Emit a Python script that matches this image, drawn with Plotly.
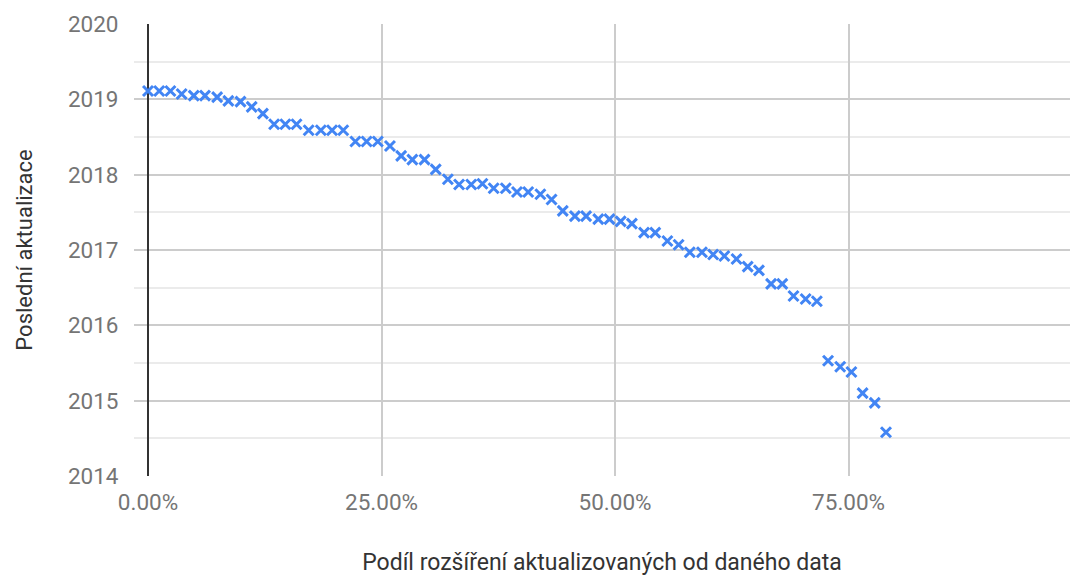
"""
Podíl rozšíření aktualizovaných od daného data - scatter chart
"""
import plotly.graph_objects as go

# share of extensions updated since the given date (fraction)
share_updated = [
    0.000, 0.012, 0.024, 0.036, 0.049, 0.061, 0.074, 0.086, 0.099, 0.111,
    0.123, 0.135, 0.147, 0.159, 0.172, 0.185, 0.197, 0.209, 0.222, 0.234,
    0.246, 0.259, 0.271, 0.283, 0.296, 0.308, 0.321, 0.333, 0.346, 0.358,
    0.370, 0.383, 0.395, 0.407, 0.420, 0.432, 0.444, 0.457, 0.469, 0.482,
    0.494, 0.506, 0.518, 0.531, 0.543, 0.556, 0.568, 0.580, 0.593, 0.605,
    0.617, 0.630, 0.642, 0.654, 0.667, 0.679, 0.691, 0.704, 0.716, 0.728,
    0.741, 0.753, 0.765, 0.778, 0.790,
]

# date of last update (decimal year)
last_update = [
    2019.11, 2019.11, 2019.11, 2019.07, 2019.05, 2019.05, 2019.03, 2018.98, 2018.97, 2018.90,
    2018.81, 2018.67, 2018.67, 2018.67, 2018.59, 2018.59, 2018.59, 2018.59, 2018.44, 2018.44,
    2018.44, 2018.38, 2018.25, 2018.20, 2018.20, 2018.07, 2017.94, 2017.87, 2017.87, 2017.88,
    2017.82, 2017.82, 2017.77, 2017.77, 2017.74, 2017.67, 2017.52, 2017.45, 2017.45, 2017.41,
    2017.41, 2017.38, 2017.35, 2017.23, 2017.23, 2017.12, 2017.07, 2016.97, 2016.97, 2016.94,
    2016.92, 2016.88, 2016.78, 2016.73, 2016.55, 2016.55, 2016.39, 2016.35, 2016.32, 2015.53,
    2015.45, 2015.38, 2015.10, 2014.97, 2014.58,
]

x_ticks = [0, 0.25, 0.5, 0.75]
x_tick_labels = ["0.00%", "25.00%", "50.00%", "75.00%"]
y_ticks = [2014, 2015, 2016, 2017, 2018, 2019, 2020]

fig = go.Figure()

fig.add_trace(go.Scatter(
    x=share_updated,
    y=last_update,
    mode='markers',
    marker=dict(symbol='x-thin-open', size=10, color='#4285f4',
                line=dict(width=3, color='#4285f4')),
    hovertemplate='%{x:.2%}<br>%{y:.2f}<extra></extra>',
    showlegend=False,
))

fig.update_layout(
    width=1070,
    height=576,
    margin=dict(l=134, r=0, t=24, b=100),
    plot_bgcolor='white',
    paper_bgcolor='white',
    font=dict(family='Roboto', size=22.5, color='#757575'),
    xaxis=dict(
        range=[-0.015, 0.987],
        tickvals=x_ticks,
        ticktext=x_tick_labels,
        showgrid=True,
        gridcolor='#cccccc',
        gridwidth=1.5,
        zeroline=True,
        zerolinecolor='#333333',
        zerolinewidth=1.5,
        showline=False,
        ticks='outside',
        ticklen=6,
        tickcolor='rgba(0,0,0,0)',
        title=dict(text='Podíl rozšíření aktualizovaných od daného data',
                   font=dict(size=23, color='#333333'), standoff=40),
    ),
    yaxis=dict(
        range=[2014, 2020],
        tickvals=y_ticks,
        showgrid=True,
        gridcolor='#cccccc',
        gridwidth=1.5,
        zeroline=False,
        showline=False,
        ticks='outside',
        ticklen=10,
        tickcolor='rgba(0,0,0,0)',
        minor=dict(dtick=0.5, showgrid=True, gridcolor='#ebebeb', gridwidth=1.5),
        title=dict(text='Poslední aktualizace',
                   font=dict(size=22, color='#333333'), standoff=29),
    ),
)

# drop the default page margin so the chart sits at the window's corner
fig.write_html("out.html", config={'displayModeBar': False},
               post_script="document.body.style.margin='0';")
